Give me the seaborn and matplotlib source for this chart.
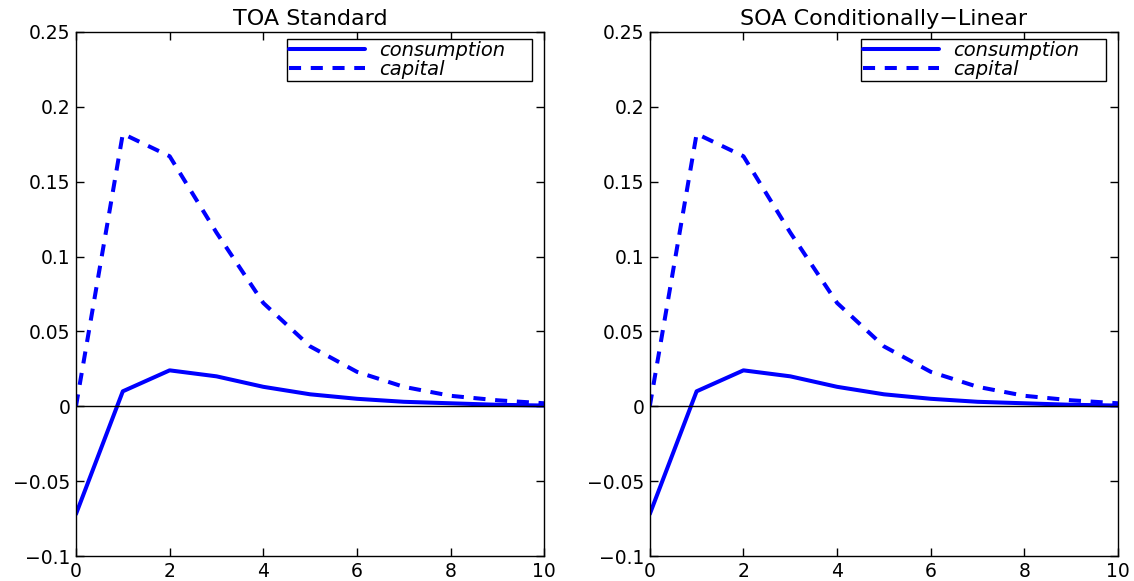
import pandas as pd
import seaborn as sns
import matplotlib.pyplot as plt

# impulse responses
periods = list(range(11))
consumption = [-0.072, 0.010, 0.024, 0.020, 0.013, 0.008, 0.005, 0.003, 0.002, 0.001, 0.0005]
capital = [0.0, 0.182, 0.167, 0.116, 0.069, 0.040, 0.023, 0.013, 0.007, 0.004, 0.002]
titles = ['TOA Standard', 'SOA Conditionally\u2212Linear']
yticks = [-0.1, -0.05, 0, 0.05, 0.1, 0.15, 0.2, 0.25]
ytick_labels = ['\u22120.1', '\u22120.05', '0', '0.05', '0.1', '0.15', '0.2', '0.25']

sns.set_style('ticks')
plt.rcParams['font.family'] = ['DejaVu Sans']
for key in ['text.color', 'axes.labelcolor', 'xtick.color', 'ytick.color', 'axes.edgecolor']:
    plt.rcParams[key] = 'black'

df = pd.DataFrame({
    'period': periods * 2,
    'value': consumption + capital,
    'series': ['consumption'] * 11 + ['capital'] * 11,
})

fig = plt.figure(figsize=(11.34, 5.81), dpi=100)
positions = [[0.067, 0.043, 0.413, 0.902], [0.573, 0.043, 0.413, 0.902]]

for pos, title in zip(positions, titles):
    ax = fig.add_axes(pos)
    sns.lineplot(data=df, x='period', y='value', style='series',
                 dashes={'consumption': '', 'capital': (3, 2.4)},
                 color='#0000ff', linewidth=2.9, ax=ax)
    ax.axhline(0, color='black', linewidth=1)
    ax.set_xlim(0, 10)
    ax.set_ylim(-0.1, 0.25)
    ax.set_xticks([0, 2, 4, 6, 8, 10])
    ax.set_yticks(yticks)
    ax.set_yticklabels(ytick_labels)
    ax.tick_params(direction='in', top=True, right=True, labelsize=13.5,
                   length=6, width=1, pad=4)
    ax.set_xlabel('')
    ax.set_ylabel('')
    ax.set_title(title, fontsize=16, pad=5)
    for s in ax.spines.values():
        s.set_linewidth(1)
    leg = ax.legend(loc='upper left', bbox_to_anchor=(0.451, 0.0, 0.523, 0.987),
                    mode='expand', fancybox=False, framealpha=1, edgecolor='black',
                    prop={'style': 'italic', 'size': 14},
                    handlelength=3.9, handletextpad=0.75, borderpad=0.1,
                    labelspacing=0.0, borderaxespad=0)
    leg.get_frame().set_linewidth(1)

fig.savefig('out.png', dpi=100)
